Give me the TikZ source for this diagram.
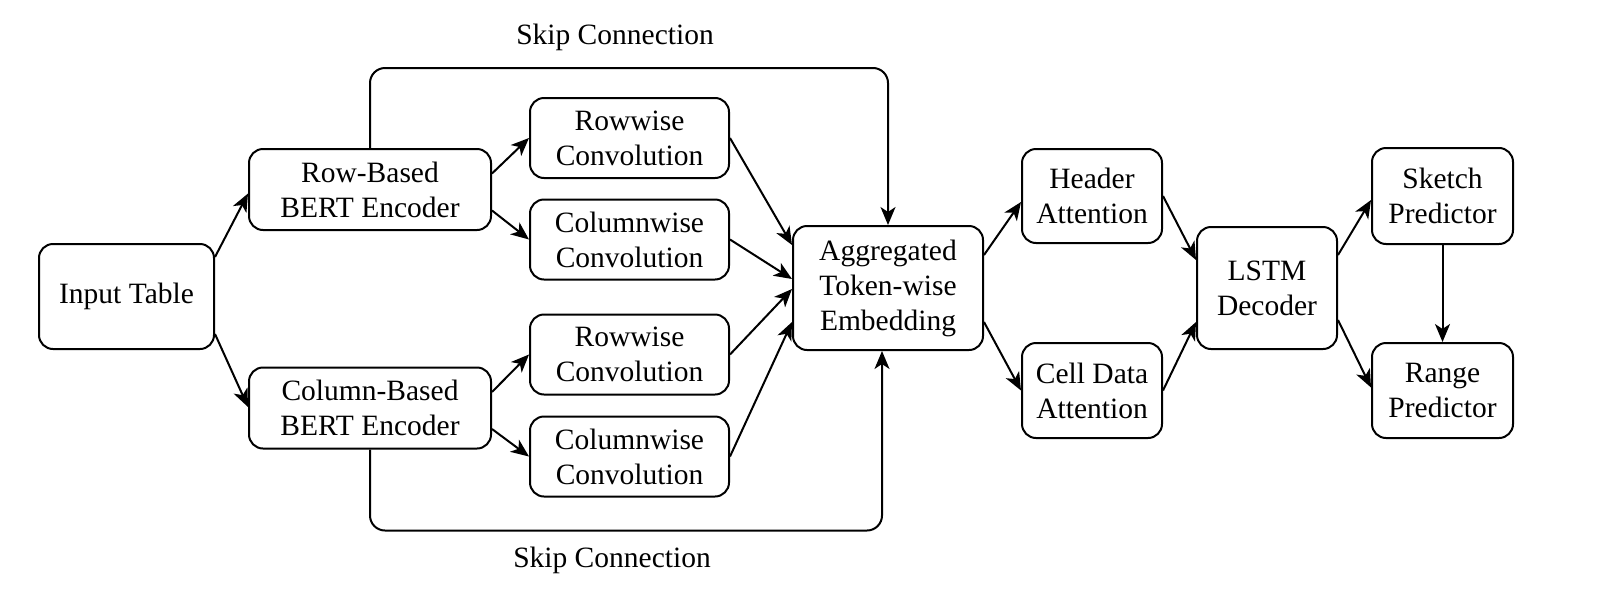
\documentclass[tikz,border=0pt]{standalone}
\usepackage{fontspec}
\setmainfont{Liberation Serif}
\usetikzlibrary{arrows.meta,calc}
\begin{document}
\begin{tikzpicture}[x=1pt,y=-1pt,
  box/.style={draw, line width=2pt, rounded corners=14pt, align=center, inner sep=0pt,
              font=\fontsize{29.5}{35}\selectfont},
  link/.style={line width=2pt, -{Stealth[length=18pt,width=15pt,inset=5pt]}},
  lbl/.style={font=\fontsize{29.5}{35}\selectfont, inner sep=0pt}]
\useasboundingbox (0,0) rectangle (1600,600);

\node[box, minimum width=175pt, minimum height=105pt] (input) at (126.5,296.5) {Input Table};
\node[box, minimum width=242pt, minimum height=81pt] (rowbert) at (370,189.5) {Row-Based\\BERT Encoder};
\node[box, minimum width=242pt, minimum height=81pt] (colbert) at (370,408) {Column-Based\\BERT Encoder};
\node[box, minimum width=199pt, minimum height=80pt] (rc1) at (629.5,138) {Rowwise\\Convolution};
\node[box, minimum width=199pt, minimum height=80pt] (cc1) at (629.5,239.5) {Columnwise\\Convolution};
\node[box, minimum width=199pt, minimum height=80pt] (rc2) at (629.5,354.5) {Rowwise\\Convolution};
\node[box, minimum width=199pt, minimum height=80pt] (cc2) at (629.5,456.5) {Columnwise\\Convolution};
\node[box, minimum width=190pt, minimum height=124pt] (agg) at (888,288) {Aggregated\\Token-wise\\Embedding};
\node[box, minimum width=140pt, minimum height=94pt] (header) at (1092,196) {Header\\Attention};
\node[box, minimum width=140pt, minimum height=95pt] (cell) at (1092,390.5) {Cell Data\\Attention};
\node[box, minimum width=140pt, minimum height=122pt] (lstm) at (1267,288) {LSTM\\Decoder};
\node[box, minimum width=141pt, minimum height=96pt] (sketch) at (1442.5,196) {Sketch\\Predictor};
\node[box, minimum width=141pt, minimum height=95pt] (range) at (1442.5,390.5) {Range\\Predictor};

\node[lbl] (skiptop) at (615,37) {Skip Connection};
\node[lbl] (skipbot) at (612,560) {Skip Connection};

\draw[link] ($(input.north east)+(0,14)$) -- ($(rowbert.west)+(0,4)$);
\draw[link] ($(input.south east)+(0,-16)$) -- ($(colbert.west)+(0,-1)$);

\draw[link] ($(rowbert.east)+(0,-16)$) -- (rc1.west);
\draw[link] ($(rowbert.east)+(0,21)$) -- (cc1.west);
\draw[link] ($(colbert.east)+(0,-16)$) -- (rc2.west);
\draw[link] ($(colbert.east)+(0,21)$) -- (cc2.west);

\draw[link] (rc1.east) -- ($(agg.west)+(0,-43)$);
\draw[link] (cc1.east) -- ($(agg.west)+(0,-9)$);
\draw[link] (rc2.east) -- ($(agg.west)+(0,1)$);
\draw[link] (cc2.east) -- ($(agg.west)+(0,34)$);

\draw[link, rounded corners=15pt] (rowbert.north) -- ++(0,-80) -| (agg.north);
\draw[link, rounded corners=15pt] (colbert.south) -- ++(0,81) -| ($(agg.south)+(-6,0)$);

\draw[link] ($(agg.east)+(0,-33)$) -- ($(header.west)+(0,6)$);
\draw[link] ($(agg.east)+(0,34)$) -- (cell.west);
\draw[link] (header.east) -- ($(lstm.west)+(0,-28)$);
\draw[link] (cell.east) -- ($(lstm.west)+(0,34)$);
\draw[link] ($(lstm.east)+(0,-33)$) -- ($(sketch.west)+(0,4)$);
\draw[link] ($(lstm.east)+(0,32)$) -- ($(range.west)+(0,-3)$);
\draw[link] (sketch.south) -- (range.north);
\end{tikzpicture}
\end{document}
